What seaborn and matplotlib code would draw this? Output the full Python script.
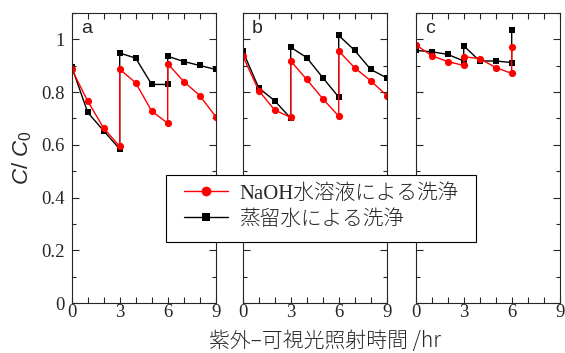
import pandas as pd
import seaborn as sns
from matplotlib import pyplot as plt
from matplotlib.lines import Line2D
from matplotlib.patches import Rectangle

# irradiation time (hr); each step at 3 and 6 hr is a re-wash, so x repeats
t_ab = [0, 1, 2, 3, 3, 4, 5, 6, 6, 7, 8, 9]
t_c = [0, 1, 2, 3, 3, 4, 5, 6, 6]

naoh_a = [0.887, 0.766, 0.663, 0.594, 0.887, 0.835, 0.728, 0.682, 0.908, 0.840, 0.787, 0.707]
water_a = [0.897, 0.723, 0.653, 0.584, 0.948, 0.929, 0.829, 0.829, 0.936, 0.916, 0.901, 0.886]
naoh_b = [0.938, 0.806, 0.732, 0.704, 0.918, 0.848, 0.775, 0.709, 0.956, 0.892, 0.843, 0.787]
water_b = [0.956, 0.816, 0.767, 0.701, 0.970, 0.931, 0.855, 0.781, 1.015, 0.958, 0.886, 0.854]
naoh_c = [0.980, 0.938, 0.916, 0.901, 0.934, 0.927, 0.893, 0.871, 0.971]
water_c = [0.958, 0.953, 0.943, 0.918, 0.976, 0.918, 0.918, 0.912, 1.034]

panels = ["a", "b", "c"]
xticks = [0, 3, 6, 9]
yticks = [0, 0.2, 0.4, 0.6, 0.8, 1.0]
yticklabels = ["0", "0.2", "0.4", "0.6", "0.8", "1"]
label_naoh = "NaOH水溶液による洗浄"
label_water = "蒸留水による洗浄"
xlabel = "紫外–可視光照射時間 /hr"

rows = []
for p, t, naoh, water in [
    ("a", t_ab, naoh_a, water_a),
    ("b", t_ab, naoh_b, water_b),
    ("c", t_c, naoh_c, water_c),
]:
    for x, y in zip(t, water):
        rows.append({"panel": p, "series": "water", "t": x, "C": y})
    for x, y in zip(t, naoh):
        rows.append({"panel": p, "series": "naoh", "t": x, "C": y})
df = pd.DataFrame(rows)

sns.set_style("ticks")
plt.rcParams["font.family"] = ["Liberation Serif", "Noto Sans CJK JP"]
plt.rcParams["mathtext.fontset"] = "custom"
plt.rcParams["mathtext.it"] = "Liberation Sans:italic"
plt.rcParams["mathtext.rm"] = "Liberation Sans"
plt.rcParams["axes.linewidth"] = 0.8

fig = plt.figure(figsize=(5.65, 3.53), dpi=100)
W, H = 565, 353
lefts = [71.7, 242.7, 415.7]
colors = {"naoh": "#ff0000", "water": "#000000"}
markers = {"naoh": "o", "water": "s"}
msize = {"naoh": 5.2, "water": 4.6}
jp = ["Noto Sans CJK JP", "DejaVu Sans"]

for left, p in zip(lefts, panels):
    ax = fig.add_axes([left / W, 50 / H, 144 / W, 290 / H])
    for s in ["water", "naoh"]:
        sub = df[(df.panel == p) & (df.series == s)]
        sns.lineplot(
            data=sub,
            x="t",
            y="C",
            color=colors[s],
            marker=markers[s],
            markersize=msize[s],
            markeredgewidth=0,
            linewidth=1.0,
            sort=False,
            estimator=None,
            ax=ax,
        )
    ax.set_xticks(xticks, [str(x) for x in xticks])
    ax.set_xticks(range(0, 10), minor=True)
    ax.set_yticks(yticks, yticklabels)
    ax.set_yticks([i / 10 for i in range(0, 12)], minor=True)
    ax.set_xlim(0, 9)
    ax.set_ylim(0, 1.1)
    ax.tick_params(which="both", direction="in", top=True, right=True, width=0.8, labelsize=13.5)
    ax.tick_params(axis="x", which="both", length=4, pad=1)
    ax.tick_params(axis="y", which="major", length=5, pad=5)
    ax.tick_params(axis="y", which="minor", length=3)
    ax.set_xlabel("")
    ax.set_ylabel("")
    if p == "a":
        ax.set_ylabel("$C/\\ C_0$", fontsize=16, labelpad=5)
    else:
        ax.tick_params(axis="y", labelleft=False)
    ax.text(0.0625, 0.93, p, transform=ax.transAxes, ha="left", va="baseline",
            fontsize=14, family=["Liberation Sans"])

fig.text(325 / W, 1 - 341 / H, xlabel, ha="center", va="center",
         fontsize=15, fontweight="light", family=jp)

# legend frame spans panels a-c like in the figure
fig.add_artist(Rectangle((166 / W, 1 - 242 / H), 310 / W, 67 / H, transform=fig.transFigure,
                         facecolor="white", edgecolor="black", linewidth=0.8, zorder=3))
handles = [
    Line2D([], [], color=colors["naoh"], marker="o", markersize=7, markeredgewidth=0, lw=1.0),
    Line2D([], [], color=colors["water"], marker="s", markersize=5.5, markeredgewidth=0, lw=1.0),
]
leg = fig.legend(
    handles,
    [label_naoh, label_water],
    loc="upper left",
    bbox_to_anchor=(184 / W, 1 - 184 / H),
    frameon=False,
    prop={"family": ["Liberation Serif", "Noto Sans CJK JP"], "size": 14.9, "weight": "light"},
    handlelength=2.13,
    handletextpad=0.53,
    labelspacing=0.3,
    borderpad=0,
    borderaxespad=0,
)

plt.savefig("out.png", dpi=100)
